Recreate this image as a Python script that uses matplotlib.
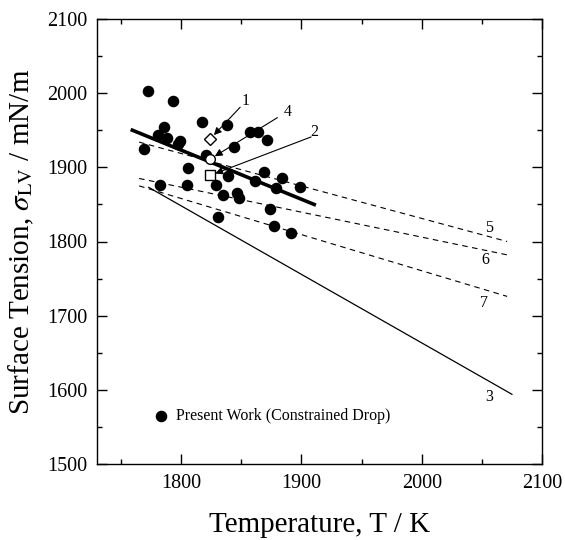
import matplotlib
matplotlib.use("Agg")
import matplotlib.pyplot as plt
from matplotlib.ticker import MultipleLocator

plt.rcParams['font.family'] = ['Liberation Serif', 'DejaVu Serif']
plt.rcParams['mathtext.fontset'] = 'stix'

# Present work (constrained drop) data
temp = [1772, 1793, 1817, 1786, 1781, 1788, 1799, 1797, 1769, 1821, 1806,
        1782, 1805, 1829, 1838, 1857, 1864, 1871, 1844, 1839, 1869, 1861,
        1884, 1879, 1899, 1835, 1846, 1848, 1874, 1831, 1877, 1891]
sigma = [2003, 1990, 1961, 1955, 1944, 1940, 1935, 1931, 1925, 1917, 1899,
         1876, 1876, 1876, 1957, 1947, 1947, 1937, 1928, 1888, 1894, 1881,
         1885, 1872, 1873, 1863, 1866, 1858, 1844, 1833, 1821, 1812]

# Fit line (thick)
fit_T = [1758, 1912]
fit_s = [1951, 1849]

# Literature lines
line3_T, line3_s = [1773, 2075], [1873, 1594]
line5_T, line5_s = [1765, 2071], [1934, 1800]
line6_T, line6_s = [1765, 2071], [1885, 1782]
line7_T, line7_s = [1765, 2071], [1875, 1726]

# Single literature points
p1 = (1824, 1938)   # diamond, 1
p4 = (1824, 1911)   # circle, 4
p2 = (1824, 1889)   # square, 2

fig = plt.figure(figsize=(5.65, 5.4), dpi=100)
ax = fig.add_axes([97/565, 1-464/540, 445/565, 445/540])

dash = (0, (5, 4))
ax.plot(line3_T, line3_s, color='black', lw=0.9)
ax.plot(line5_T, line5_s, color='black', lw=0.8, linestyle=dash)
ax.plot(line6_T, line6_s, color='black', lw=0.8, linestyle=dash)
ax.plot(line7_T, line7_s, color='black', lw=0.8, linestyle=dash)
ax.plot(fit_T, fit_s, color='black', lw=2.6, solid_capstyle='butt')

ax.plot(temp, sigma, 'o', color='black', markersize=7.3, linestyle='none')

ax.plot(*p1, 'D', mfc='white', mec='black', mew=1.0, markersize=6.5)
ax.plot(*p4, 'o', mfc='white', mec='black', mew=1.0, markersize=7)
ax.plot(*p2, 's', mfc='white', mec='black', mew=1.0, markersize=6.5)

ap = dict(arrowstyle='-|>', color='black', lw=0.8, mutation_scale=11,
          shrinkA=0, shrinkB=4)
ax.annotate('', xy=p1, xytext=(1849, 1981), arrowprops=ap)
ax.annotate('', xy=p4, xytext=(1880, 1967), arrowprops=ap)
ax.annotate('', xy=p2, xytext=(1908, 1941), arrowprops=ap)

fs_num = 11.5
ax.text(1854, 1990, '1', fontsize=fs_num, ha='center', va='center')
ax.text(1889, 1975, '4', fontsize=fs_num, ha='center', va='center')
ax.text(1911, 1948, '2', fontsize=fs_num, ha='center', va='center')
ax.text(2056, 1818, '5', fontsize=fs_num, ha='center', va='center')
ax.text(2053, 1775, '6', fontsize=fs_num, ha='center', va='center')
ax.text(2052, 1717, '7', fontsize=fs_num, ha='center', va='center')
ax.text(2056, 1590, '3', fontsize=fs_num, ha='center', va='center')

# legend
ax.plot(1783, 1565, 'o', color='black', markersize=7.3)
ax.text(1796, 1565, 'Present Work (Constrained Drop)', fontsize=11.5,
        ha='left', va='center')

ax.set_xlim(1730, 2100)
ax.set_ylim(1500, 2100)
ax.xaxis.set_major_locator(MultipleLocator(100))
ax.xaxis.set_minor_locator(MultipleLocator(50))
ax.yaxis.set_major_locator(MultipleLocator(100))
ax.yaxis.set_minor_locator(MultipleLocator(50))
ax.tick_params(which='both', direction='in', top=True, right=True, width=1.0)
ax.tick_params(which='major', length=7, labelsize=14.5, pad=7)
ax.tick_params(which='minor', length=3.5)
for s in ax.spines.values():
    s.set_linewidth(1.0)

ax.set_xlabel('Temperature, T / K', fontsize=21, labelpad=14)
ax.set_ylabel(r'Surface Tension, $\sigma_{\rm LV}$ / mN/m', fontsize=21, labelpad=8)

fig.savefig('out.png', dpi=100)
